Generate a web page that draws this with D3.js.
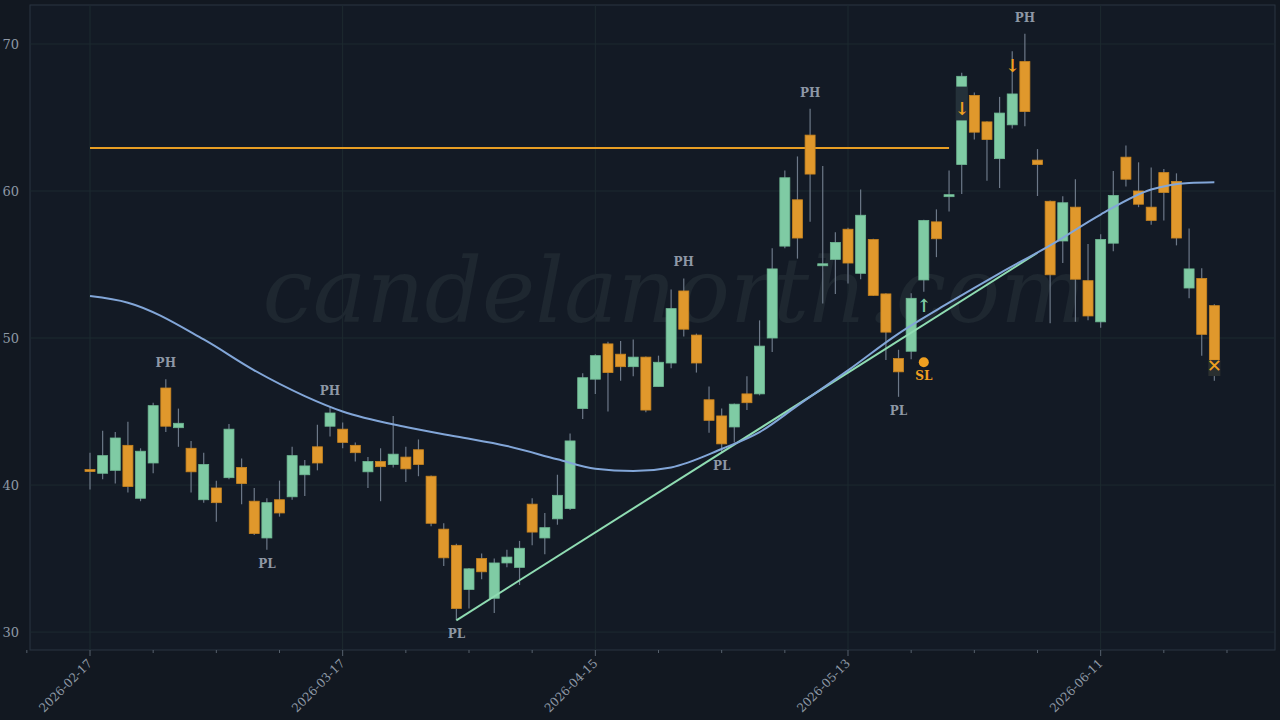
<!DOCTYPE html>
<html>
<head>
<meta charset="utf-8">
<script src="https://cdn.jsdelivr.net/npm/d3@7"></script>
<style>
  html, body { margin: 0; padding: 0; background: #131a24; }
  svg { display: block; }
</style>
</head>
<body>
<svg id="chart" width="1280" height="720"></svg>
<script>
// OHLC per trading day
const opens  = [41.05,40.8,41.0,42.7,39.1,41.5,46.6,43.9,42.5,39.0,39.8,40.5,41.2,38.9,36.4,39.0,39.2,40.7,42.6,44.0,43.8,42.7,40.9,41.6,41.4,41.9,42.4,40.6,37.0,35.9,32.9,35.0,32.3,34.7,34.4,38.7,36.4,37.7,38.4,45.2,47.2,49.6,48.9,48.05,48.7,46.7,48.3,53.2,50.2,45.8,44.7,43.95,46.2,46.2,50.0,56.25,59.4,63.8,54.95,55.35,57.4,54.4,56.7,53.0,48.6,49.1,53.95,57.9,59.65,61.8,66.5,64.7,62.2,64.5,68.8,62.1,59.3,56.6,58.9,53.9,51.1,56.45,62.3,60.0,58.9,61.25,60.65,53.4,54.05,52.2];
const highs  = [42.2,43.7,43.6,44.3,42.5,45.6,47.2,45.2,43.0,42.2,40.3,44.15,41.8,39.8,39.1,40.3,42.6,41.7,44.1,45.3,44.25,42.9,41.9,42.5,44.7,42.6,43.1,40.65,37.4,36.0,34.35,35.35,35.0,35.6,36.2,39.1,38.1,40.7,43.5,47.6,48.9,49.75,49.8,49.9,48.75,48.8,53.3,54.05,50.3,46.7,45.2,45.55,47.4,51.2,56.1,61.4,62.35,65.6,61.7,57.2,57.5,60.1,56.75,53.05,49.2,53.05,58.05,58.75,61.4,68.05,66.7,64.75,66.4,69.5,70.7,62.85,59.35,59.65,60.8,56.4,57.05,61.36,63.1,61.95,61.6,61.5,61.2,57.45,54.75,52.3];
const lows   = [39.7,40.4,40.1,39.5,38.9,40.8,43.6,42.6,39.5,38.8,37.5,40.4,38.7,36.6,35.6,37.85,39.0,39.25,41.0,43.3,42.5,41.6,39.8,38.9,41.2,40.2,40.6,37.2,34.5,30.8,31.6,33.6,31.3,34.4,33.2,35.9,35.3,37.3,38.3,44.5,46.2,45.0,47.1,47.4,44.95,46.7,47.95,50.1,47.65,43.55,42.25,42.9,45.1,46.1,49.05,56.1,55.4,57.9,52.35,53.0,53.7,54.0,52.85,48.5,46.0,48.55,53.15,55.5,58.6,59.8,63.5,60.7,60.2,64.25,64.4,59.66,51.0,55.1,51.1,51.2,50.7,55.9,60.3,58.9,57.7,58.0,56.3,52.7,48.8,47.1];
const closes = [41.0,42.0,43.2,39.9,42.3,45.4,44.0,44.2,40.9,41.4,38.8,43.8,40.1,36.7,38.8,38.1,42.0,41.3,41.5,44.9,42.9,42.2,41.6,41.25,42.1,41.1,41.4,37.4,35.05,31.6,34.3,34.1,34.7,35.1,35.7,36.8,37.1,39.3,43.0,47.3,48.8,47.65,48.05,48.7,45.1,48.35,52.0,50.6,48.3,44.4,42.8,45.5,45.6,49.45,54.7,60.9,56.8,61.15,55.05,56.5,55.1,58.35,52.9,50.4,47.7,52.7,58.0,56.75,59.75,67.8,64.0,63.5,65.3,66.6,65.4,61.8,54.3,59.2,54.0,51.5,56.7,59.7,60.8,59.1,58.0,59.9,56.8,54.7,50.25,48.5];

// moving average sampled at candle indices
const maIdx = [0,3,9,13,17,20,25,29,33,37,40,43,46,50,53,56,60,64,68,72,76,80,84,87,89];
const maVal = [52.85,52.4,49.9,47.8,46.05,45.0,43.95,43.3,42.65,41.75,41.1,40.95,41.2,42.45,43.6,45.4,47.8,50.3,52.4,54.4,56.3,58.4,60.1,60.55,60.6];

// date tick labels every 20 sessions
const tickIdx = [0,20,40,60,80];
const tickLabels = ["2026-02-17","2026-03-17","2026-04-15","2026-05-13","2026-06-11"];
const yTicks = [30,40,50,60,70];

// annotations
const pivotHighs = [6,19,47,57,74];
const pivotLows = [14,29,50,64];
const trend = [[29,30.8],[75,55.8]];
const level = {from:0, to:68, value:62.93};

const bull = "#7fcba4", bear = "#e0982c", wick = "#6c7888";

const svg = d3.select("#chart");
const W = 1280, H = 720;
const plot = {left:30, right:1275, top:5, bottom:650};

const x = d3.scaleLinear().domain([-4.75, 93.8]).range([plot.left, plot.right]);
const y = d3.scaleLinear().domain([28.78, 72.65]).range([plot.bottom, plot.top]);

svg.append("rect").attr("width", W).attr("height", H).attr("fill", "#121821");
svg.append("rect").attr("x", plot.left).attr("y", plot.top)
  .attr("width", plot.right - plot.left).attr("height", plot.bottom - plot.top)
  .attr("fill", "#131a25").attr("stroke", "#2a3442");

// grid
svg.append("g").selectAll("line").data(yTicks).join("line")
  .attr("x1", plot.left).attr("x2", plot.right)
  .attr("y1", d => y(d)).attr("y2", d => y(d))
  .attr("stroke", "#1d2a30");
svg.append("g").selectAll("line").data(tickIdx).join("line")
  .attr("y1", plot.top).attr("y2", plot.bottom)
  .attr("x1", d => x(d)).attr("x2", d => x(d))
  .attr("stroke", "#1d2a30");

// watermark
svg.append("text").attr("x", 674).attr("y", 322).attr("text-anchor", "middle")
  .attr("font-family", "DejaVu Serif, serif").attr("font-style", "italic")
  .attr("font-size", 90).attr("fill", "#1e2730").text("candelanorth.com");

// y axis labels
svg.append("g").selectAll("text").data(yTicks).join("text")
  .attr("x", 19).attr("y", d => y(d) + 5).attr("text-anchor", "end")
  .attr("font-family", "DejaVu Serif, serif").attr("font-size", 13)
  .attr("fill", "#8e98a6").text(d => d);

// x axis ticks
const minor = d3.range(-5, 95, 5);
svg.append("g").selectAll("line").data(minor).join("line")
  .attr("x1", d => x(d)).attr("x2", d => x(d))
  .attr("y1", plot.bottom).attr("y2", d => plot.bottom + (d % 20 === 0 ? 6 : 3))
  .attr("stroke", "#56606c");
svg.append("g").selectAll("text").data(tickIdx).join("text")
  .attr("transform", d => `translate(${x(d) + 3},${plot.bottom + 14}) rotate(-45)`)
  .attr("text-anchor", "end")
  .attr("font-family", "DejaVu Serif, serif").attr("font-size", 12)
  .attr("fill", "#8e98a6").text((d, i) => tickLabels[i]);

// level line
svg.append("line").attr("x1", x(level.from)).attr("x2", x(level.to))
  .attr("y1", y(level.value)).attr("y2", y(level.value))
  .attr("stroke", "#e89e24").attr("stroke-width", 2);

// candles
const bw = 10;
const candles = svg.append("g").selectAll("g").data(d3.range(opens.length)).join("g");
candles.append("line")
  .attr("x1", i => x(i)).attr("x2", i => x(i))
  .attr("y1", i => y(highs[i])).attr("y2", i => y(lows[i]))
  .attr("stroke", wick).attr("stroke-width", 1.2);
candles.append("rect")
  .attr("x", i => x(i) - bw / 2).attr("width", bw)
  .attr("y", i => y(Math.max(opens[i], closes[i])))
  .attr("height", i => Math.max(2, Math.abs(y(opens[i]) - y(closes[i]))))
  .attr("fill", i => closes[i] >= opens[i] ? bull : bear)
  .attr("stroke", i => closes[i] >= opens[i] ? "#6fb893" : "#c98520")
  .attr("stroke-width", 0.8);

// trend line and moving average
svg.append("path")
  .attr("d", d3.line().x(d => x(d[0])).y(d => y(d[1]))(trend))
  .attr("fill", "none").attr("stroke", "#8fdcb2").attr("stroke-width", 2);
svg.append("path")
  .attr("d", d3.line().x((d, k) => x(d)).y((d, k) => y(maVal[k])).curve(d3.curveMonotoneX)(maIdx))
  .attr("fill", "none").attr("stroke", "#82a6d8").attr("stroke-width", 2);

// pivot labels
const lab = {"font-family": "DejaVu Serif, serif", "font-size": 12, "font-weight": "bold"};
function label(px, py, txt, color) {
  const t = svg.append("text").attr("x", px).attr("y", py).attr("text-anchor", "middle").attr("fill", color).text(txt);
  Object.entries(lab).forEach(([k, v]) => t.attr(k, v));
  return t;
}
pivotHighs.forEach(i => label(x(i), y(highs[i]) - 12, "PH", "#8e98a6"));
pivotLows.forEach(i => label(x(i), y(lows[i]) + 18, "PL", "#8e98a6"));

// signals
label(x(66), y(lows[66]) + 20, "↑", bull).attr("font-size", 18);
svg.append("rect").attr("x", x(69) - 6).attr("y", y(67.1)).attr("width", 12).attr("height", y(64.8) - y(67.1)).attr("fill", "#24313a");
label(x(69), y(64.8) - 5, "↓", "#f0a020").attr("font-size", 18);
label(x(73), y(69.0) + 13, "↓", "#f0a020").attr("font-size", 18);
svg.append("circle").attr("cx", x(66)).attr("cy", y(48.35)).attr("r", 5).attr("fill", "#f0a020");
label(x(66), y(48.35) + 18, "SL", "#f0a020");
svg.append("rect").attr("x", x(89) - 6).attr("y", y(48.5)).attr("width", 12).attr("height", 16).attr("fill", "#2a2f30");
label(x(89), y(48.5) + 12, "✕", "#f0a020").attr("font-size", 18).attr("font-family", "DejaVu Sans");
</script>
</body>
</html>
